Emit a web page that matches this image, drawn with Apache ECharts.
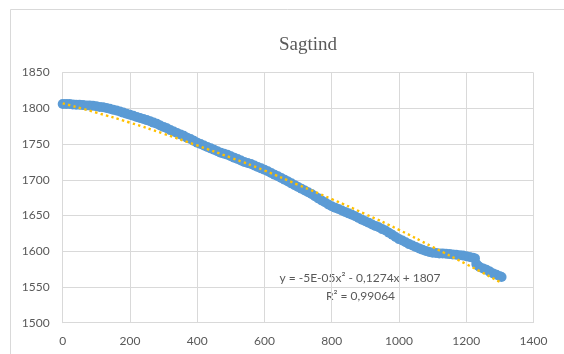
<!DOCTYPE html>
<html>
<head>
<meta charset="utf-8" />
<script src="https://cdn.jsdelivr.net/npm/echarts@6/dist/echarts.min.js"></script>
<style>
  html, body { margin: 0; padding: 0; background: #ffffff; }
  #chart { width: 564px; height: 354px; }
</style>
</head>
<body>
<div id="chart"></div>
<script>
var distance = [0, 10, 20, 30, 40, 50, 60, 70, 80, 90, 100, 110, 120, 130, 140, 150, 160, 170, 180, 190,
  200, 210, 220, 230, 240, 250, 260, 270, 280, 290, 300, 310, 320, 330, 340, 350, 360, 370, 380, 390,
  400, 410, 420, 430, 440, 450, 460, 470, 480, 490, 500, 510, 520, 530, 540, 550, 560, 570, 580, 590,
  600, 610, 620, 630, 640, 650, 660, 670, 680, 690, 700, 710, 720, 730, 740, 750, 760, 770, 780, 790,
  800, 810, 820, 830, 840, 850, 860, 870, 880, 890, 900, 910, 920, 930, 940, 950, 960, 970, 980, 990,
  1000, 1010, 1020, 1030, 1040, 1050, 1060, 1070, 1080, 1090, 1100, 1110, 1120, 1130, 1140, 1150, 1160, 1170, 1180, 1190,
  1200, 1210, 1220, 1226, 1230, 1234, 1240, 1250, 1260, 1270, 1280, 1290, 1300, 1305];
var elevation = [1806, 1806, 1806, 1805.5, 1805, 1805, 1804.5, 1804, 1804, 1803.5, 1803, 1802, 1801.5, 1800.5, 1799.5, 1798, 1797, 1795.5, 1794, 1792.5,
  1791, 1789.5, 1788, 1786.5, 1785, 1783.5, 1782, 1780, 1778.5, 1776, 1774, 1772, 1769.5, 1767.5, 1765.5, 1763.5, 1761.5, 1759, 1757, 1754.5,
  1752, 1750, 1748, 1746, 1744, 1742, 1740, 1738, 1736.5, 1735, 1733, 1731, 1729, 1727, 1725, 1723.5, 1722, 1720, 1718, 1716,
  1714, 1712, 1709.5, 1707, 1705, 1702.5, 1700, 1697.5, 1695, 1692.5, 1690, 1687.5, 1685, 1682.5, 1680, 1677, 1674, 1671, 1668.5, 1665.5,
  1663, 1661, 1659, 1657, 1655, 1653, 1651, 1649, 1646.5, 1644, 1642, 1640, 1637.5, 1635.5, 1633.5, 1631, 1629, 1626, 1623, 1620,
  1617, 1615, 1612.5, 1610, 1608, 1606, 1604, 1602, 1600.5, 1599, 1598, 1597.5, 1597, 1597, 1596.5, 1596, 1595.5, 1595, 1594.5, 1594,
  1593, 1592, 1591, 1590, 1582, 1580, 1578, 1576, 1574, 1571.5, 1569, 1567, 1565, 1564];

// polynomial trendline as drawn in the picture
var trendX = [0, 100, 200, 300, 400, 500, 600, 700, 800, 900, 1000, 1100, 1200, 1300];
var trendY = [1807, 1794, 1780, 1764.5, 1748, 1731, 1713, 1693, 1673, 1652, 1630, 1606, 1582, 1557];

var xTicks = [0, 200, 400, 600, 800, 1000, 1200, 1400];
var yTicks = [1500, 1550, 1600, 1650, 1700, 1750, 1800, 1850];

var equationText = "y = -5E-05x² - 0,1274x + 1807";
var r2Text = "R² = 0,99064";

var points = distance.map(function (d, i) { return [d, elevation[i]]; });
var trend = trendX.map(function (d, i) { return [d, trendY[i]]; });

var chart = echarts.init(document.getElementById("chart"), null, { renderer: "canvas" });

var option = {
  animation: false,
  backgroundColor: "#ffffff",
  title: {
    text: "Sagtind",
    left: 303,
    top: 31,
    textAlign: "center",
    textStyle: {
      fontFamily: "Liberation Serif",
      fontSize: 19,
      fontWeight: "normal",
      color: "#595959",
    },
  },
  grid: {
    left: 62.7,
    right: 30.5,
    top: 72.6,
    bottom: 31.3,
  },
  xAxis: {
    type: "value",
    min: xTicks[0],
    max: xTicks[xTicks.length - 1],
    interval: 200,
    axisLine: { show: true, lineStyle: { color: "#d9d9d9" } },
    axisTick: { show: false },
    splitLine: { show: true, lineStyle: { color: "#d9d9d9" } },
    axisLabel: {
      color: "#595959", fontFamily: "Lato", fontSize: 12, margin: 12,
      formatter: function (v) { return String(v); },
    },
  },
  yAxis: {
    type: "value",
    min: yTicks[0],
    max: yTicks[yTicks.length - 1],
    interval: 50,
    axisLine: { show: true, lineStyle: { color: "#d9d9d9" } },
    axisTick: { show: false },
    splitLine: { show: true, lineStyle: { color: "#d9d9d9" } },
    axisLabel: {
      color: "#595959", fontFamily: "Lato", fontSize: 12, margin: 13,
      formatter: function (v) { return String(v); },
    },
  },
  series: [
    {
      type: "scatter",
      data: points,
      symbol: "circle",
      symbolSize: 10,
      itemStyle: { color: "#5b9bd5", opacity: 1, borderWidth: 0 },
    },
    {
      type: "line",
      data: trend,
      smooth: true,
      showSymbol: false,
      lineStyle: { color: "#ffc000", width: 2.4, type: [2.4, 3.2], cap: "butt" },
    },
  ],
  graphic: [
    {
      type: "rect",
      shape: { x: 10.5, y: 9.5, width: 620, height: 400 },
      style: { fill: "none", stroke: "#d9d9d9", lineWidth: 1 },
      silent: true,
    },
    {
      type: "text",
      x: 360,
      y: 278.5,
      style: {
        text: equationText,
        fill: "#595959",
        font: "12px Lato",
        textAlign: "center",
        textVerticalAlign: "middle",
      },
    },
    {
      type: "text",
      x: 360.5,
      y: 296,
      style: {
        text: r2Text,
        fill: "#595959",
        font: "12px Lato",
        textAlign: "center",
        textVerticalAlign: "middle",
      },
    },
  ],
};

chart.setOption(option);
</script>
</body>
</html>
